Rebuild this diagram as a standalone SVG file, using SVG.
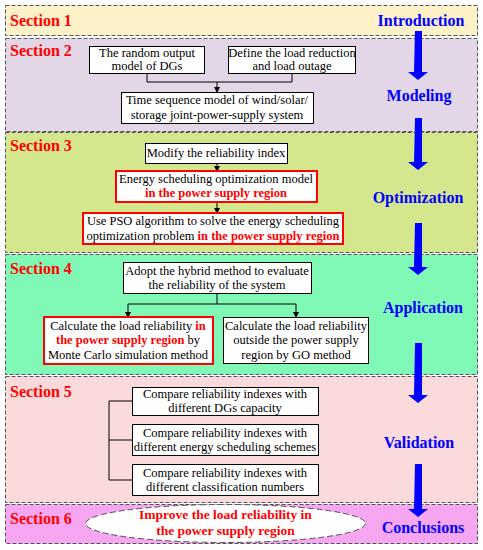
<svg xmlns="http://www.w3.org/2000/svg" width="483" height="550" viewBox="0 0 483 550">
<style>
.sec{stroke:#555;stroke-width:1;stroke-dasharray:4,2}
.sl{font-family:"Liberation Serif","Times New Roman",serif;font-weight:bold;font-size:16px;fill:#ff0000}
.rl{font-family:"Liberation Serif","Times New Roman",serif;font-weight:bold;font-size:16px;fill:#0000ff;text-anchor:middle}
.box{fill:#fff;stroke:#000;stroke-width:1}
.rbox{fill:#fff;stroke:#ff0000;stroke-width:2}
.t{font-family:"Liberation Serif","Times New Roman",serif;font-size:12.5px;fill:#000;text-anchor:middle}
.r{fill:#ff0000;font-weight:bold}
.ln{fill:none;stroke:#000;stroke-width:1}
.ba{fill:#0000ff}
</style>
<defs>
<marker id="ah" markerWidth="6" markerHeight="6" refX="5" refY="3" orient="auto" markerUnits="userSpaceOnUse">
<path d="M0,0 L6,3 L0,6 z" fill="#000"/>
</marker>
</defs>
<g id="sections">
<rect class="sec" x="5.5" y="5.5" width="472" height="30" fill="#fdf1c7"/>
<rect class="sec" x="5.5" y="38.5" width="472" height="93" fill="#e2d6e7"/>
<rect class="sec" x="5.5" y="132.5" width="472" height="120" fill="#d5e78d"/>
<rect class="sec" x="5.5" y="254.5" width="472" height="120" fill="#80f8b6"/>
<rect class="sec" x="5.5" y="376.5" width="472" height="126" fill="#fadadb"/>
<rect class="sec" x="5.5" y="504.5" width="472" height="39" fill="#f7a6f1"/>
</g>
<g id="section-labels">
<text class="sl" x="10" y="26">Section 1</text>
<text class="sl" x="10" y="56">Section 2</text>
<text class="sl" x="10" y="151">Section 3</text>
<text class="sl" x="10" y="274">Section 4</text>
<text class="sl" x="10" y="397">Section 5</text>
<text class="sl" x="10" y="524">Section 6</text>
</g>
<g id="stage-labels">
<text class="rl" x="421" y="26">Introduction</text>
<text class="rl" x="419" y="101">Modeling</text>
<text class="rl" x="418" y="203">Optimization</text>
<text class="rl" x="423" y="313">Application</text>
<text class="rl" x="419" y="448">Validation</text>
<text class="rl" x="423" y="533">Conclusions</text>
</g>
<g id="blue-arrows">
<path class="ba" d="M415,31 h7 v41 h6 l-10,8 l-10,-8 h6 z"/>
<path class="ba" d="M415,118 h7 v44 h6 l-10,8 l-10,-8 h6 z"/>
<path class="ba" d="M415,223 h7 v44 h6 l-10,8 l-10,-8 h6 z"/>
<path class="ba" d="M415,343 h7 v52 h6 l-10,8 l-10,-8 h6 z"/>
<path class="ba" d="M415,464 h7 v45 h6 l-10,8 l-10,-8 h6 z"/>
</g>
<g id="connectors">
<path class="ln" d="M147,73 V82 H292 V73"/>
<path class="ln" d="M217,82 V92" marker-end="url(#ah)"/>
<path class="ln" d="M217,163 V171" marker-end="url(#ah)"/>
<path class="ln" d="M217,202 V213" marker-end="url(#ah)"/>
<path class="ln" d="M217,293 V304"/>
<path class="ln" d="M128,304 H296"/>
<path class="ln" d="M128,304 V317" marker-end="url(#ah)"/>
<path class="ln" d="M296,304 V317" marker-end="url(#ah)"/>
<path class="ln" d="M132,401 H109 V480 H132"/>
<path class="ln" d="M109,440 H132"/>
</g>
<g id="n-random">
<rect class="box" x="89.5" y="46.5" width="115" height="27"/>
<text class="t" x="147" y="57">The random output</text>
<text class="t" x="147" y="70">model of DGs</text>
</g>
<g id="n-define">
<rect class="box" x="228.5" y="46.5" width="127" height="27"/>
<text class="t" x="292" y="57">Define the load reduction</text>
<text class="t" x="292" y="70">and load outage</text>
</g>
<g id="n-time">
<rect class="box" x="121.5" y="92.5" width="192" height="31"/>
<text class="t" x="217" y="104">Time sequence model of wind/solar/</text>
<text class="t" x="217" y="119">storage joint-power-supply system</text>
</g>
<g id="n-modify">
<rect class="box" x="145.5" y="143.5" width="142" height="20"/>
<text class="t" x="216" y="157">Modify the reliability index</text>
</g>
<g id="n-energy">
<rect class="rbox" x="116" y="171" width="201" height="31"/>
<text class="t" x="216" y="183">Energy scheduling optimization model</text>
<text class="t r" x="216" y="197">in the power supply region</text>
</g>
<g id="n-pso">
<rect class="rbox" x="83" y="213" width="260" height="31"/>
<text class="t" x="213" y="225">Use PSO algorithm to solve the energy scheduling</text>
<text class="t" x="213" y="240">optimization problem <tspan class="r">in the power supply region</tspan></text>
</g>
<g id="n-hybrid">
<rect class="box" x="123.5" y="262.5" width="188" height="31"/>
<text class="t" x="217" y="275">Adopt the hybrid method to evaluate</text>
<text class="t" x="217" y="289">the reliability of the system</text>
</g>
<g id="n-monte">
<rect class="rbox" x="44" y="317" width="169" height="47"/>
<text class="t" x="128" y="330">Calculate the load reliability <tspan class="r">in</tspan></text>
<text class="t" x="128" y="344"><tspan class="r">the power supply region</tspan> by</text>
<text class="t" x="128" y="359">Monte Carlo simulation method</text>
</g>
<g id="n-go">
<rect class="box" x="223.5" y="317.5" width="145" height="46"/>
<text class="t" x="296" y="330">Calculate the load reliability</text>
<text class="t" x="296" y="344">outside the power supply</text>
<text class="t" x="296" y="359">region by GO method</text>
</g>
<g id="n-cmp1">
<rect class="box" x="132.5" y="387.5" width="186" height="28"/>
<text class="t" x="225" y="398">Compare reliability indexes with</text>
<text class="t" x="225" y="412">different DGs capacity</text>
</g>
<g id="n-cmp2">
<rect class="box" x="132.5" y="424.5" width="186" height="31"/>
<text class="t" x="225" y="437">Compare reliability indexes with</text>
<text class="t" x="225" y="451">different energy scheduling schemes</text>
</g>
<g id="n-cmp3">
<rect class="box" x="132.5" y="464.5" width="186" height="31"/>
<text class="t" x="225" y="477">Compare reliability indexes with</text>
<text class="t" x="225" y="491">different classification numbers</text>
</g>
<g id="n-improve">
<ellipse cx="225.5" cy="523.5" rx="140" ry="19" fill="#fff" stroke="#555" stroke-width="1" stroke-dasharray="6,3"/>
<text class="t r" x="225.5" y="519" style="font-size:13.5px">Improve the load reliability in</text>
<text class="t r" x="225.5" y="535" style="font-size:13.5px">the power supply region</text>
</g>
</svg>
